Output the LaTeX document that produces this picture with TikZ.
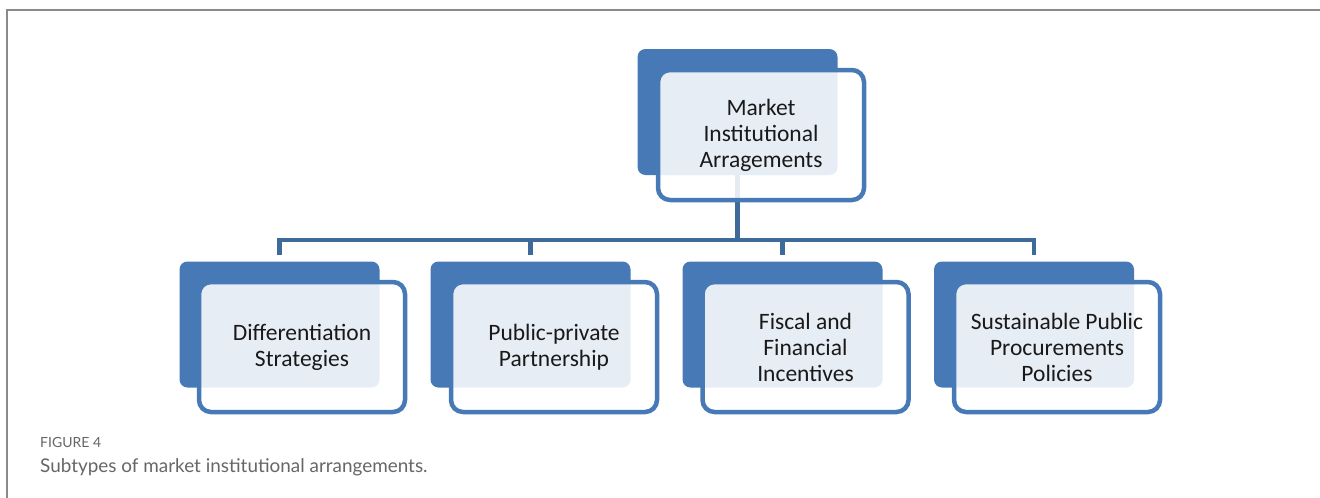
\documentclass[tikz,border=0pt]{standalone}
\usepackage{fontspec}
\setmainfont{Carlito}
\newfontfamily\capfont{Lato}
\definecolor{boxblue}{HTML}{4679B6}
\definecolor{linkblue}{HTML}{3E6A9A}
\definecolor{frameg}{HTML}{8A8A8A}
\definecolor{capg}{HTML}{666666}
\begin{document}
\begin{tikzpicture}[x=1pt,y=-1pt,
  backbox/.style={fill=boxblue,draw=none,rounded corners=8pt,minimum width=200pt,minimum height=126pt,inner sep=0pt},
  frontbox/.style={draw=boxblue,line width=4.5pt,fill=white,fill opacity=0.87,text opacity=1,draw opacity=1,rounded corners=12pt,minimum width=206pt,minimum height=130pt,inner sep=0pt,align=center,font=\fontsize{23.5}{26}\selectfont,text=black!90},
  link/.style={draw=linkblue,line width=4.5pt}]
\useasboundingbox (0,0) rectangle (1320,498);
\draw[frameg,line width=1.5pt] (7,498) -- (7,10) -- (1320,10);
% back boxes
\node[backbox] (tb) at (737.5,112) {};
\node[backbox] (b1) at (279.5,324.5) {};
\node[backbox] (b2) at (530.5,324.5) {};
\node[backbox] (b3) at (782.5,324.5) {};
\node[backbox] (b4) at (1034,324.5) {};
% connectors
\coordinate (bar) at (737.5,240);
\draw[link] (tb.south) -- (bar);
\draw[link] ([yshift=6pt]b1.north) |- (bar) -| ([yshift=6pt]b4.north);
\draw[link] ([yshift=6pt]b2.north) -- (b2.north |- bar);
\draw[link] ([yshift=6pt]b3.north) -- (b3.north |- bar);
% front boxes
\node[frontbox] (tf) at (761,135) {Market\\Institutional\\Arragements};
\node[frontbox] (f1) at (302,347) {Differentiation\\Strategies};
\node[frontbox] (f2) at (554,347) {Public-private\\Partnership};
\node[frontbox] (f3) at (805.5,347) {Fiscal and\\Financial\\Incentives};
\node[frontbox] (f4) at (1057,347) {Sustainable Public\\Procurements\\Policies};
% caption
\node[anchor=base west,inner sep=0pt,text=capg,font=\capfont\fontsize{14}{16}\selectfont] (fig) at (40,447) {FIGURE 4};
\node[anchor=base west,inner sep=0pt,text=capg,font=\capfont\fontsize{18.9}{22}\selectfont] (cap) at (40,472) {Subtypes of market institutional arrangements.};
\end{tikzpicture}
\end{document}
